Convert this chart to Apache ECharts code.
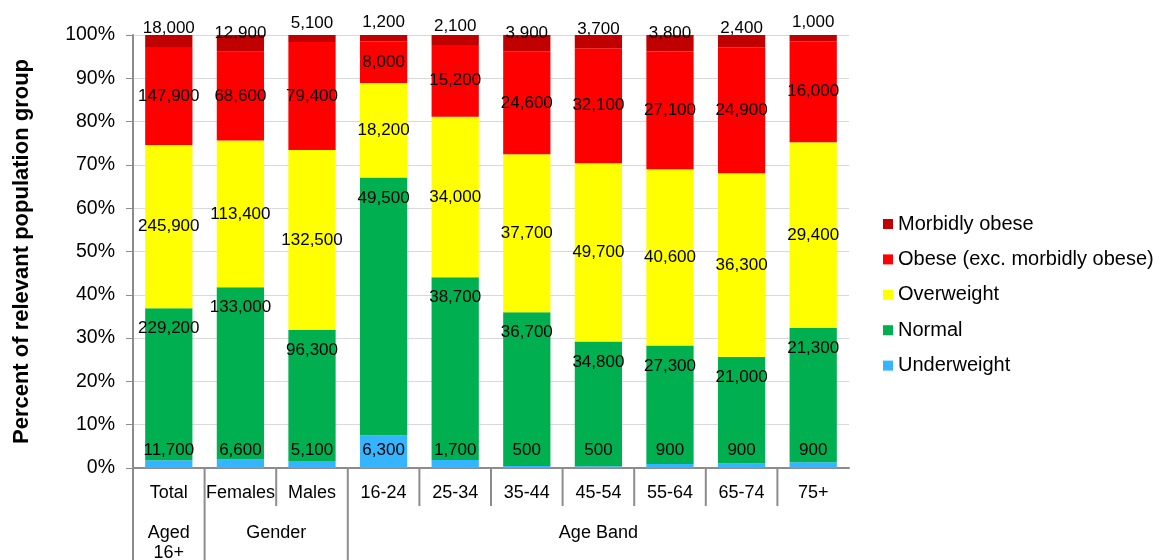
<!DOCTYPE html>
<html>
<head>
<meta charset="utf-8">
<title>Weight category by population group</title>
<script src="https://cdn.jsdelivr.net/npm/echarts@6/dist/echarts.min.js"></script>
<style>
  html, body { margin: 0; padding: 0; background: #ffffff; }
  #chart { width: 1167px; height: 560px; }
</style>
</head>
<body>
<div id="chart"></div>
<script>
// Population groups along the bottom axis
const categories = ['Total', 'Females', 'Males', '16-24', '25-34', '35-44', '45-54', '55-64', '65-74', '75+'];

// Second-level grouping of the categories (first and last category index of each group)
const groupNames = ['Aged\n16+', 'Gender', 'Age Band'];
const groupStart = [0, 1, 3];
const groupEnd = [0, 2, 9];

// Estimated number of people in each weight category
const underweight = [11700, 6600, 5100, 6300, 1700, 500, 500, 900, 900, 900];
const normal = [229200, 133000, 96300, 49500, 38700, 36700, 34800, 27300, 21000, 21300];
const overweight = [245900, 113400, 132500, 18200, 34000, 37700, 49700, 40600, 36300, 29400];
const obese = [147900, 68600, 79400, 8000, 15200, 24600, 32100, 27100, 24900, 16000];
const morbidlyObese = [18000, 12900, 5100, 1200, 2100, 3900, 3700, 3800, 2400, 1000];

const seriesNames = ['Underweight', 'Normal', 'Overweight', 'Obese (exc. morbidly obese)', 'Morbidly obese'];
const seriesCounts = [underweight, normal, overweight, obese, morbidlyObese];

const FONT = "'Liberation Sans', Arial, Helvetica, sans-serif";
const colors = ['#35B5FF', '#00B050', '#FFFF00', '#FF0000', '#C00000'];
// where each series puts its value label inside the bar segment
const labelPlacement = [
  { position: 'insideBottom', distance: 9 },
  { position: 'insideTop', distance: 12 },
  { position: 'inside', distance: 5 },
  { position: 'inside', distance: 5 },
  { position: 'insideBottom', distance: 10 }
];

// column totals, used to turn counts into shares of each group
const totals = categories.map((_, i) => seriesCounts.reduce((s, arr) => s + arr[i], 0));

const series = seriesNames.map((name, k) => ({
  name: name,
  type: 'bar',
  stack: 'share',
  barWidth: '66%',
  itemStyle: { color: colors[k] },
  emphasis: { disabled: true },
  label: {
    show: true,
    position: labelPlacement[k].position,
    distance: labelPlacement[k].distance,
    color: '#000000',
    fontFamily: FONT,
    fontSize: 17,
    formatter: p => p.data.count.toLocaleString('en-US')
  },
  data: seriesCounts[k].map((c, i) => ({ value: c / totals[i] * 100, count: c }))
}));

const chart = echarts.init(document.getElementById('chart'), null, { renderer: 'canvas' });

const GRID = { left: 133, right: 318, top: 35, bottom: 92 };

chart.setOption({
  animation: false,
  backgroundColor: '#ffffff',
  textStyle: { fontFamily: FONT },
  grid: GRID,
  legend: {
    orient: 'vertical',
    left: 878,
    top: 209,
    itemWidth: 10,
    itemHeight: 10,
    itemGap: 15.4,
    icon: 'rect',
    selectedMode: false,
    data: ['Morbidly obese', 'Obese (exc. morbidly obese)', 'Overweight', 'Normal', 'Underweight'],
    textStyle: { fontFamily: FONT, fontSize: 20, color: '#000000' }
  },
  xAxis: {
    type: 'category',
    data: categories,
    axisLine: { lineStyle: { color: '#8C8C8C', width: 2 } },
    axisTick: { show: false },
    axisLabel: { color: '#000000', fontFamily: FONT, fontSize: 18, margin: 16, interval: 0 }
  },
  yAxis: {
    type: 'value',
    min: 0,
    max: 100,
    interval: 10,
    name: 'Percent of relevant population group',
    nameLocation: 'middle',
    nameGap: 100,
    nameTextStyle: { fontFamily: FONT, fontSize: 22, fontWeight: 'bold', color: '#000000' },
    axisLine: { show: true, lineStyle: { color: '#8C8C8C', width: 2 } },
    axisTick: { show: true, length: 7, lineStyle: { color: '#8C8C8C' } },
    axisLabel: { formatter: '{value}%', color: '#000000', fontFamily: FONT, fontSize: 19.5, margin: 18 },
    splitLine: { lineStyle: { color: '#D9D9D9', width: 1 } }
  },
  series: series
});

// Multi-level category axis: separators and group captions below the first row of labels
function drawGroupAxis() {
  const cx = i => chart.convertToPixel({ xAxisIndex: 0 }, categories[i]);
  const yBase = chart.convertToPixel({ yAxisIndex: 0 }, 0);
  const rowEnd = yBase + 38;
  const bottom = 560;
  const half = (cx(1) - cx(0)) / 2;
  const lineStyle = { stroke: '#8C8C8C', lineWidth: 2 };
  const elements = [];

  // left edge of the axis continues down through both rows
  elements.push({ type: 'line', shape: { x1: cx(0) - half, y1: yBase, x2: cx(0) - half, y2: bottom }, style: lineStyle, silent: true });

  for (let i = 1; i < categories.length; i++) {
    const x = (cx(i - 1) + cx(i)) / 2;
    const startsGroup = groupStart.indexOf(i) >= 0;
    elements.push({
      type: 'line',
      shape: { x1: x, y1: yBase, x2: x, y2: startsGroup ? bottom : rowEnd },
      style: lineStyle,
      silent: true
    });
  }

  groupNames.forEach((name, g) => {
    const x = (cx(groupStart[g]) + cx(groupEnd[g])) / 2;
    elements.push({
      type: 'text',
      x: x,
      y: yBase + 55,
      silent: true,
      style: {
        text: name,
        fill: '#000000',
        font: '18px ' + FONT,
        align: 'center',
        verticalAlign: 'top',
        lineHeight: 20
      }
    });
  });

  chart.setOption({ graphic: { elements: elements } });
}
drawGroupAxis();
</script>
</body>
</html>
